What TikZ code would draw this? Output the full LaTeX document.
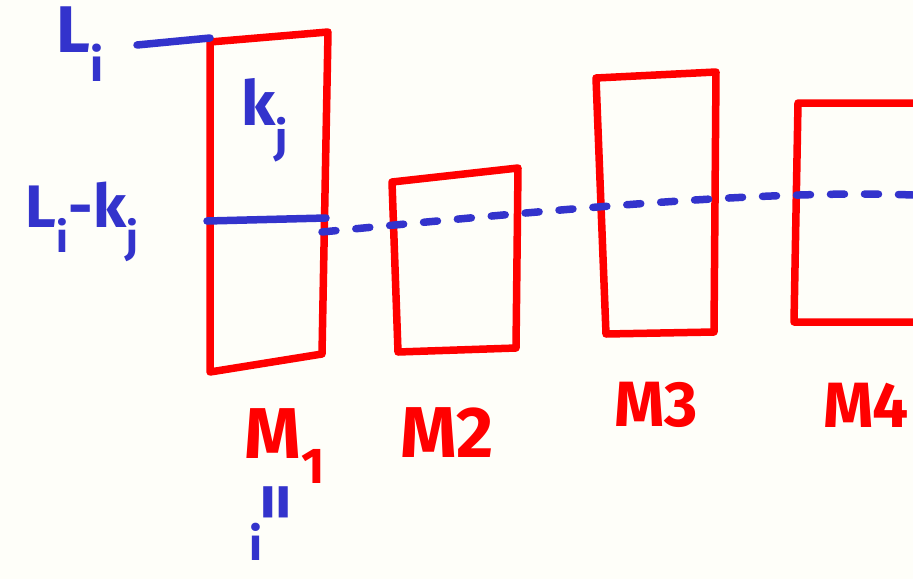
\documentclass[tikz,border=0pt]{standalone}
\usepackage{fontspec}
\setmainfont{Fira Sans}
\definecolor{bg}{HTML}{FEFEF9}
\definecolor{pen}{HTML}{3333CC}
\definecolor{redpen}{HTML}{FF0000}
\begin{document}
\begin{tikzpicture}[x=1pt,y=-1pt,
  box/.style={draw=redpen,line width=7.5pt,line join=round,line cap=round},
  blueline/.style={draw=pen,line width=7.5pt,line cap=round},
  bluetext/.style={text=pen,inner sep=0pt,font=\fontsize{66}{66}\selectfont\bfseries},
  redtext/.style={text=redpen,inner sep=0pt,font=\fontsize{72}{72}\selectfont\bfseries}]
\useasboundingbox[fill=bg] (0,0) rectangle (913,579);
% boxes
\draw[box] (210,42) -- (328,32) -- (322,354) -- (210,372) -- cycle;
\draw[box] (392,182) -- (518,168) -- (516,348) -- (398,352) -- cycle;
\draw[box] (596,78) -- (716,72) -- (714,332) -- (606,334) -- cycle;
\draw[box] (930,103) -- (798,103) -- (794,322) -- (930,322);
% blue lines
\coordinate (la) at (137,45);
\coordinate (lb) at (210,38);
\draw[blueline] (la) -- (lb);
\coordinate (ma) at (207,221);
\coordinate (mb) at (326,218);
\draw[blueline] (ma) -- (mb);
\coordinate (da) at (322,232);
\coordinate (db) at (913,195);
\draw[blueline,dash pattern=on 14pt off 20pt] (da) .. controls (600,205) and (780,190) .. (db);
% labels
\node[bluetext] (li) at (80,44) {L\textsubscript{i}};
\node[bluetext,font=\fontsize{62}{62}\selectfont\bfseries] (kj) at (265,120) {k\textsubscript{j}};
\node[bluetext,font=\fontsize{60}{60}\selectfont\bfseries] (likj) at (82,222) {L\textsubscript{i}-k\textsubscript{j}};
\node[redtext] (m1) at (285,446) {M\textsubscript{1}};
\node[bluetext,rotate=90,font=\fontsize{74}{74}\selectfont\bfseries] (eq) at (282,502) {=};
\node[bluetext,font=\fontsize{46}{46}\selectfont\bfseries,anchor=base] (ii) at (256,560) {i};
\node[redtext] (m2) at (447,433) {M2};
\node[redtext,font=\fontsize{64}{64}\selectfont\bfseries] (m3) at (656,405) {M3};
\node[redtext,font=\fontsize{64}{64}\selectfont\bfseries] (m4) at (866,405) {M4};
\end{tikzpicture}
\end{document}
